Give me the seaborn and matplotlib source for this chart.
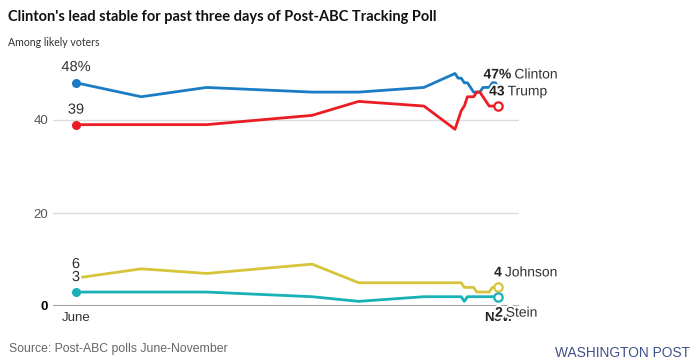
import matplotlib
matplotlib.use("Agg")
import matplotlib.pyplot as plt
import matplotlib.dates as mdates
import matplotlib.patheffects as pe
import numpy as np
import pandas as pd
import seaborn as sns

# ---------------- data ----------------
dates = ["2016-06-22", "2016-07-13", "2016-08-03", "2016-09-06", "2016-09-21", "2016-10-12",
         "2016-10-22", "2016-10-23", "2016-10-24", "2016-10-25", "2016-10-26", "2016-10-27",
         "2016-10-28", "2016-10-29", "2016-10-30", "2016-10-31", "2016-11-01", "2016-11-02",
         "2016-11-03", "2016-11-04", "2016-11-05"]
clinton = [48, 45, 47, 46, 46, 47, 50, 49, 49, 48, 48, 47, 46, 46, 46, 47, 47, 47, 48, 48, 47]
trump   = [39, 39, 39, 41, 44, 43, 38, 40, 42, 43, 45, 45, 45, 46, 46, 45, 44, 43, 43, 43, 43]
johnson = [6, 8, 7, 9, 5, 5, 5, 5, 5, 4, 4, 4, 4, 3, 3, 3, 3, 3, 4, 4, 4]
stein   = [3, 3, 3, 2, 1, 2, 2, 2, 2, 1, 2, 2, 2, 2, 2, 2, 2, 2, 2, 2, 2]

candidates = ["Clinton", "Trump", "Johnson", "Stein"]
colors = ["#1a7dc4", "#ec1c24", "#d6c53b", "#17b1b8"]
x_tick_labels = ["June", "Nov."]
y_ticks = [0, 20, 40]
y_tick_labels = ["0", "20", "40"]
start_labels = ["48%", "39", "6", "3"]
end_numbers = ["47%", "43", "4", "2"]

title = "Clinton's lead stable for past three days of Post-ABC Tracking Poll"
subtitle = "Among likely voters"
source = "Source: Post-ABC polls June-November"
brand = "WASHINGTON POST"

series = dict(zip(candidates, [clinton, trump, johnson, stein]))
df = pd.DataFrame({
    "date": pd.to_datetime(dates * len(candidates)),
    "candidate": np.repeat(candidates, len(dates)),
    "pct": clinton + trump + johnson + stein,
})
palette = dict(zip(candidates, colors))

# ---------------- figure ----------------
sns.set_theme(style="white")
plt.rcParams["font.family"] = ["Liberation Sans", "DejaVu Sans"]

W, H = 700, 362
fig = plt.figure(figsize=(W / 100, H / 100), dpi=100)
px_per_unit = 4.65
ymax = 52
ax = fig.add_axes([53 / W, (H - 306) / H, (519 - 53) / W, ymax * px_per_unit / H])

sns.lineplot(data=df, x="date", y="pct", hue="candidate", palette=palette,
             hue_order=candidates, estimator=None, errorbar=None,
             linewidth=2.0, legend=False, ax=ax, zorder=3)

d0 = pd.Timestamp(dates[0])
d1 = pd.Timestamp(dates[-1])
n0 = mdates.date2num(d0)
n1 = mdates.date2num(d1)
ax.set_xlim(n0 - 7.4, n1 + 6.6)
ax.set_ylim(0, ymax)

# grid
ax.set_yticks(y_ticks)
ax.set_yticklabels(y_tick_labels)
ax.grid(axis="y", color="#dcdcdc", linewidth=1.0)
ax.grid(axis="x", visible=False)
ax.set_axisbelow(True)
ax.axhline(0, color="#a0a0a0", linewidth=1.5, zorder=1)
for s in ax.spines.values():
    s.set_visible(False)

ax.set_xticks([n0, n1])
ax.set_xticklabels(x_tick_labels)
ax.tick_params(axis="both", length=0, labelsize=9.5, labelcolor="#555555")
ax.tick_params(axis="y", pad=3.5)
ax.tick_params(axis="x", pad=4.5)
ax.set_xlabel("")
ax.set_ylabel("")
for lab in ax.get_yticklabels():
    if lab.get_text() == "0":
        lab.set_fontweight("bold")
        lab.set_color("black")
for lab in ax.get_xticklabels():
    lab.set_color("#333333")
    if lab.get_text() == "Nov.":
        lab.set_fontweight("bold")
        lab.set_color("#222222")

# start markers (filled) and end markers (open)
for name, col in zip(candidates, colors):
    vals = series[name]
    if name != "Johnson":
        ax.plot([d0], [vals[0]], "o", color=col, markersize=5.5, zorder=4)
    if name != "Clinton":
        ax.plot([d1], [vals[-1]], "o", markerfacecolor="white", markeredgecolor=col,
                markeredgewidth=1.6, markersize=6, zorder=4)

halo = [pe.withStroke(linewidth=3, foreground="white")]
k = 0.72  # px -> pt

# start labels
start_offsets = [15.7, 15.0, 14.0, 15.0]
for name, lab, off in zip(candidates, start_labels, start_offsets):
    ax.annotate(lab, xy=(d0, series[name][0]), xytext=(0, off * k),
                textcoords="offset points", ha="center", va="center",
                fontsize=10.5, color="#333333", path_effects=halo, zorder=6)

# end labels: bold number + name
end_offsets = [(-15.0, 13.0), (-9.4, 14.7), (-4.4, 15.0), (-3.4, -16.0)]
fig.canvas.draw()
renderer = fig.canvas.get_renderer()
for name, num, (dx, dy) in zip(candidates, end_numbers, end_offsets):
    xy = (d1, series[name][-1])
    t1 = ax.annotate(num, xy=xy, xytext=(dx * k, dy * k), textcoords="offset points",
                     ha="left", va="center", fontsize=10, fontweight="bold",
                     color="#222222", path_effects=halo, zorder=7)
    w = t1.get_window_extent(renderer).width
    ax.annotate(name, xy=xy, xytext=((dx + w + 3) * k, dy * k), textcoords="offset points",
                ha="left", va="center", fontsize=10, color="#333333",
                path_effects=halo, zorder=7)

# header / footer texts
def fit(t, target):
    fig.canvas.draw()
    w = t.get_window_extent(fig.canvas.get_renderer()).width
    t.set_fontsize(t.get_fontsize() * target / w)

t_title = fig.text(8 / W, 1 - 17 / H, title, ha="left", va="center", fontsize=12,
                   fontweight="bold", color="#111111",
                   family=["Lato", "Liberation Sans", "DejaVu Sans"])
fit(t_title, 425)
t_sub = fig.text(8 / W, 1 - 42 / H, subtitle, ha="left", va="center", fontsize=9,
                 color="#333333", fontweight="normal",
                 family=["Lato", "Liberation Sans", "DejaVu Sans"])
fit(t_sub, 92)
t_src = fig.text(9 / W, 1 - 349 / H, source, ha="left", va="center", fontsize=9,
                 color="#666666")
fit(t_src, 219)
t_brand = fig.text(690 / W, 1 - 353 / H, brand, ha="right", va="center", fontsize=10,
                   color="#3f5189")
fit(t_brand, 135)

fig.savefig("out.png", dpi=100)
